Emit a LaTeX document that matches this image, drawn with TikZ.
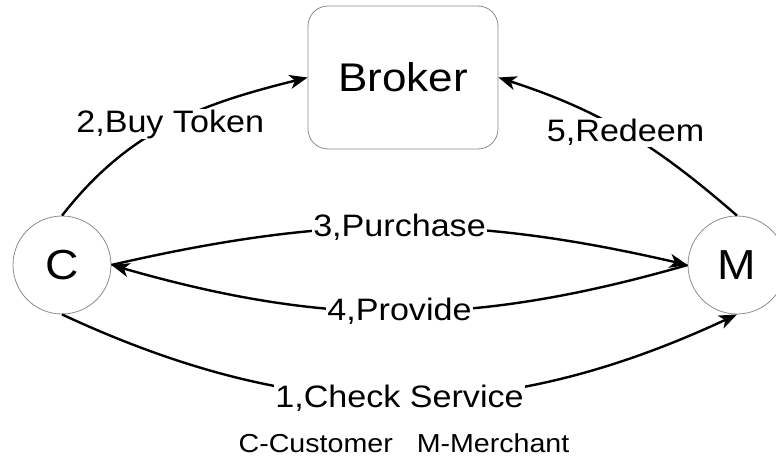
\documentclass[tikz,border=0pt]{standalone}
\usepackage{fontspec}
\setmainfont[FakeStretch=1.1]{Liberation Sans}
\usetikzlibrary{arrows.meta}
\begin{document}
\begin{tikzpicture}[x=1pt,y=1pt,
  party/.style={circle, draw=black!45, line width=0.8pt, minimum size=98pt,
    inner sep=0pt, font=\fontsize{42}{46}\selectfont},
  brokerbox/.style={rectangle, rounded corners=20pt, draw=black!45, line width=0.8pt,
    minimum width=190pt, minimum height=143pt, font=\fontsize{40}{44}\selectfont},
  flow/.style={line width=2.4pt, -{Stealth[length=18pt,width=14pt,inset=5pt]}},
  tag/.style={fill=white, inner sep=1pt, font=\fontsize{31}{34}\selectfont}]
\useasboundingbox (0,0) rectangle (776,459);

% parties and the broker
\node[party] (C) at (62,194) {C};
\node[party] (M) at (737,194) {M};
\node[brokerbox] (B) at (403,381.5) {Broker};

% message flows
\draw[flow] (C.north) to[out=52,in=194] node[tag]{2,Buy Token} (B.west);
\draw[flow] (M.north) to[out=139,in=-18] node[tag]{5,Redeem} (B.east);
\draw[flow] (C.east) to[bend left=13] node[tag]{3,Purchase} (M.west);
\draw[flow] (M.west) to[bend left=16] node[tag]{4,Provide} (C.east);
\draw[flow] (C.south) to[bend right=25] node[tag]{1,Check Service} (M.south);

% legend
\node[font=\fontsize{26}{30}\selectfont, anchor=base] (legend) at (404,7)
  {C-Customer\hspace{24pt}M-Merchant};
\end{tikzpicture}
\end{document}
